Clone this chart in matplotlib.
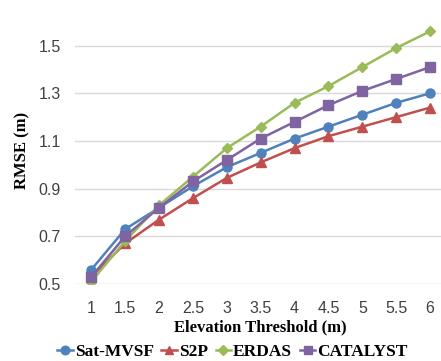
import matplotlib.pyplot as plt

thresholds = [1, 1.5, 2, 2.5, 3, 3.5, 4, 4.5, 5, 5.5, 6]
sat_mvsf = [0.56, 0.73, 0.82, 0.91, 0.99, 1.05, 1.11, 1.16, 1.21, 1.26, 1.30]
s2p = [0.53, 0.67, 0.77, 0.86, 0.945, 1.01, 1.07, 1.12, 1.16, 1.20, 1.24]
erdas = [0.51, 0.68, 0.83, 0.95, 1.07, 1.16, 1.26, 1.33, 1.41, 1.49, 1.56]
catalyst = [0.53, 0.70, 0.82, 0.93, 1.02, 1.11, 1.18, 1.25, 1.31, 1.36, 1.41]
yticks = [0.5, 0.7, 0.9, 1.1, 1.3, 1.5]

series = [
    ("Sat-MVSF", sat_mvsf, "#4F81BD", "o", 6.5),
    ("S2P", s2p, "#C0504D", "^", 6.5),
    ("ERDAS", erdas, "#9BBB59", "D", 5),
    ("CATALYST", catalyst, "#8064A2", "s", 6.5),
]

fig = plt.figure(figsize=(4.41, 3.61), dpi=100)
ax = fig.add_axes([75 / 441, 1 - 284 / 361, 370 / 441, 267 / 361])

for name, vals, color, marker, ms in series:
    ax.plot(thresholds, vals, color=color, marker=marker, markersize=ms,
            linewidth=1.8, label=name)

ax.set_xlim(0.76, 6.22)
ax.set_ylim(0.5, 1.62)
ax.set_yticks(yticks)
ax.set_yticklabels([f"{v:.1f}" for v in yticks])
ax.set_xticks(thresholds)
ax.set_xticklabels([f"{v:g}" for v in thresholds])
ax.grid(axis="y", color="#D9D9D9", linewidth=1)
ax.set_axisbelow(True)
for s in ax.spines.values():
    s.set_visible(False)
ax.tick_params(length=0, labelsize=11.5, colors="#404040")
ax.tick_params(axis="x", pad=12)
ax.tick_params(axis="y", pad=10)
for lbl in ax.get_xticklabels() + ax.get_yticklabels():
    lbl.set_family("Liberation Sans")

ax.set_xlabel("Elevation Threshold (m)", fontfamily="Liberation Serif",
              fontweight="bold", fontsize=12, labelpad=3)
ax.set_ylabel("RMSE (m)", fontfamily="Liberation Serif",
              fontweight="bold", fontsize=12, labelpad=6)

fig.legend(loc="lower center", bbox_to_anchor=(0.527, -0.04), ncol=4,
           frameon=False, handlelength=0.9, handletextpad=0.1,
           columnspacing=0.45, markerscale=0.95,
           prop={"family": "Liberation Serif", "weight": "bold", "size": 12.5})

fig.savefig("out.png", dpi=100)
